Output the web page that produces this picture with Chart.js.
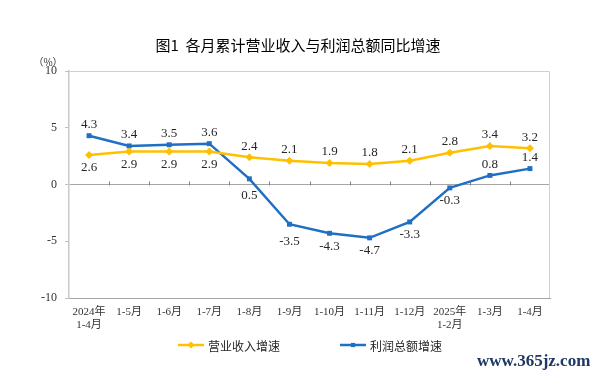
<!DOCTYPE html>
<html>
<head>
<meta charset="utf-8">
<script src="https://cdn.jsdelivr.net/npm/chart.js@4/dist/chart.umd.min.js"></script>
<style>
  html, body { margin: 0; padding: 0; background: #fff; }
  #wrap { width: 600px; height: 377px; position: relative; }
</style>
</head>
<body>
<div id="wrap"><canvas id="chart" width="600" height="377"></canvas></div>
<script>
// data
const months = [['2024年', '1-4月'], '1-5月', '1-6月', '1-7月', '1-8月', '1-9月', '1-10月', '1-11月', '1-12月', ['2025年', '1-2月'], '1-3月', '1-4月'];
const revenueGrowth = [2.6, 2.9, 2.9, 2.9, 2.4, 2.1, 1.9, 1.8, 2.1, 2.8, 3.4, 3.2];
const profitGrowth = [4.3, 3.4, 3.5, 3.6, 0.5, -3.5, -4.3, -4.7, -3.3, -0.3, 0.8, 1.4];
const yTicks = [-10, -5, 0, 5, 10];
const seriesNames = ['营业收入增速', '利润总额增速'];
// which side each label goes: 1 = above, -1 = below
const revenueLabelSide = [-1, -1, -1, -1, 1, 1, 1, 1, 1, 1, 1, 1];
const profitLabelSide = [1, 1, 1, 1, -1, -1, -1, -1, -1, -1, 1, 1];

const YELLOW = '#FFC000';
const BLUE = '#1F6FC5';
const SERIF = "'Liberation Serif', 'Noto Sans CJK SC', serif";
const CJK = "'Noto Sans CJK SC', sans-serif";

const extras = {
  id: 'extras',
  beforeDatasetsDraw(chart) {
    const { ctx, chartArea: a, scales } = chart;
    ctx.save();
    // light frame on top / right
    ctx.strokeStyle = '#d0d0d0';
    ctx.lineWidth = 1;
    ctx.beginPath();
    ctx.moveTo(a.left, a.top + 0.5);
    ctx.lineTo(a.right - 0.5, a.top + 0.5);
    ctx.lineTo(a.right - 0.5, a.bottom);
    ctx.stroke();
    // small ticks on the zero line between categories
    const y0 = Math.round(scales.y.getPixelForValue(0)) + 0.5;
    ctx.strokeStyle = '#808080';
    ctx.beginPath();
    for (let i = 1; i < months.length; i++) {
      const x = Math.round((scales.x.getPixelForTick(i - 1) + scales.x.getPixelForTick(i)) / 2) + 0.5;
      ctx.moveTo(x, y0);
      ctx.lineTo(x, y0 - 4);
    }
    ctx.stroke();
    ctx.restore();
  },
  afterDatasetsDraw(chart) {
    const { ctx } = chart;
    ctx.save();
    // point labels
    ctx.font = '13px ' + SERIF;
    ctx.fillStyle = '#262626';
    ctx.textAlign = 'center';
    ctx.textBaseline = 'middle';
    const sides = [revenueLabelSide, profitLabelSide];
    chart.data.datasets.forEach((ds, di) => {
      chart.getDatasetMeta(di).data.forEach((pt, i) => {
        const up = sides[di][i] > 0;
        // steep segments push the label a bit further down
        const steep = di === 1 && (i === 4 || i === 5);
        ctx.fillText(ds.data[i].toFixed(1), pt.x, pt.y + (up ? -11 : (steep ? 17 : 13)));
      });
    });

    // title
    ctx.fillStyle = '#000';
    ctx.font = '15px ' + CJK;
    ctx.fillText('图1  各月累计营业收入与利润总额同比增速', 298, 45);

    // unit
    ctx.font = '10px ' + CJK;
    ctx.fillStyle = '#333';
    ctx.fillText('（%）', 48, 62);

    // legend
    const items = [
      { x: 178, color: YELLOW, style: 'rectRot', r: 3.5 },
      { x: 340, color: BLUE, style: 'rect', r: 3 }
    ];
    const ly = 345;
    items.forEach((it, k) => {
      ctx.strokeStyle = it.color;
      ctx.lineWidth = 2.5;
      ctx.beginPath();
      ctx.moveTo(it.x, ly);
      ctx.lineTo(it.x + 26, ly);
      ctx.stroke();
      ctx.fillStyle = it.color;
      Chart.helpers.drawPoint(ctx, { pointStyle: it.style, radius: it.r, borderWidth: 0 }, it.x + 13, ly);
      ctx.fillStyle = '#262626';
      ctx.font = '12px ' + CJK;
      ctx.textAlign = 'left';
      ctx.fillText(seriesNames[k], it.x + 30, ly + 1);
    });

    // site mark
    ctx.font = 'bold 17px ' + SERIF;
    ctx.fillStyle = '#1F3864';
    ctx.fillText('www.365jz.com', 477, 362);
    ctx.restore();
  }
};

new Chart(document.getElementById('chart'), {
  type: 'line',
  data: {
    labels: months,
    datasets: [
      {
        label: seriesNames[0],
        data: revenueGrowth,
        borderColor: YELLOW,
        backgroundColor: YELLOW,
        borderWidth: 2.5,
        pointStyle: 'rectRot',
        pointRadius: 4,
        pointBorderWidth: 0,
        tension: 0
      },
      {
        label: seriesNames[1],
        data: profitGrowth,
        borderColor: BLUE,
        backgroundColor: BLUE,
        borderWidth: 2.5,
        pointStyle: 'rect',
        pointRadius: 3.5,
        pointBorderWidth: 0,
        tension: 0
      }
    ]
  },
  options: {
    responsive: false,
    animation: false,
    layout: { padding: { left: 0, right: 50, top: 71, bottom: 37 } },
    plugins: {
      legend: { display: false },
      title: { display: false },
      tooltip: { enabled: false }
    },
    scales: {
      x: {
        offset: true,
        grid: { display: false, offset: true },
        border: { color: '#a6a6a6', width: 1 },
        ticks: {
          maxRotation: 0,
          autoSkip: false,
          padding: 0,
          color: '#333',
          font: { size: 11, family: SERIF, lineHeight: 1.15 }
        },
        afterFit(s) { s.height = 42; }
      },
      y: {
        min: -10,
        max: 10,
        afterBuildTicks(s) { s.ticks = yTicks.map(v => ({ value: v })); },
        grid: {
          color: c => (c.tick && c.tick.value === 0 ? '#a6a6a6' : 'rgba(0,0,0,0)'),
          tickColor: '#bfbfbf',
          tickLength: 4,
          drawTicks: true
        },
        border: { color: '#c8c8c8', width: 1.5 },
        ticks: {
          padding: 8,
          color: '#333',
          font: { size: 12, family: SERIF }
        },
        afterFit(s) { s.width = 69; }
      }
    }
  },
  plugins: [extras]
});
</script>
</body>
</html>
